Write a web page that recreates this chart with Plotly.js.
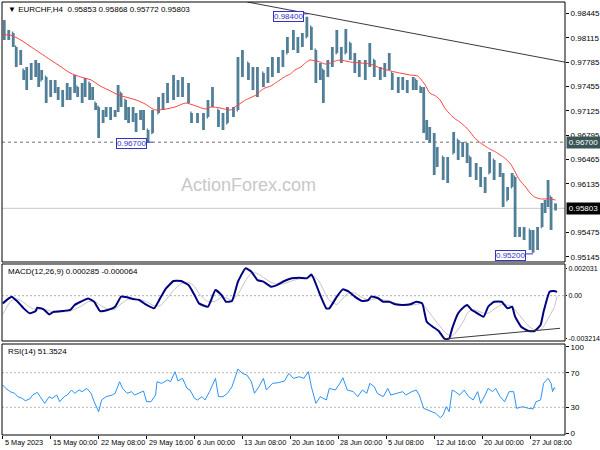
<!DOCTYPE html>
<html><head><meta charset="utf-8">
<script src="https://cdn.plot.ly/plotly-3.0.1.min.js"></script>
<style>html,body{margin:0;padding:0;background:#fff}#chart{width:600px;height:450px}</style>
</head><body><div id="chart"></div>
<script>
// ---- price bars (H4, index = bar number) ----
const barIndex = [1,4,7,9,12,14,16,19,22,24,26,29,32,35,37,40,43,45,48,50,53,55,58,60,62,64,67,69,72,75,77,79,82,84,87,89,92,94,97,100,104,107,110,114,117,120,124,126,130,134,137,140,144,147,150,154,157,160,164,167,170,174,177,180,184,187,190,194,197,200,203,206,209,212,214,217,220,223,226,229,232,235,238,242,245,248,252,255,258,260,264,267,270,274,276,279,281,283,285,288,290,294,297,301,304,307,310,312,316,319,322,325,328,332,334,337,340,342,345,348,352,354,357,360,362,364,366,369];
const barOpen = [0.98289,0.98153,0.98181,0.97991,0.97814,0.97679,0.97584,0.97638,0.97679,0.97747,0.97543,0.97584,0.97340,0.97476,0.97408,0.97340,0.97367,0.97408,0.97408,0.97448,0.97367,0.97448,0.97503,0.97367,0.97231,0.97177,0.97001,0.97096,0.97136,0.97069,0.97136,0.97367,0.97272,0.97096,0.97136,0.97041,0.97069,0.97096,0.96865,0.96825,0.97096,0.97272,0.97313,0.97448,0.97408,0.97476,0.97408,0.97096,0.97001,0.97041,0.97041,0.97204,0.97136,0.97001,0.96960,0.97096,0.97136,0.97747,0.97774,0.97611,0.97543,0.97638,0.97543,0.97679,0.97774,0.97747,0.97909,0.98018,0.98086,0.98018,0.98126,0.98262,0.97950,0.97611,0.97679,0.97611,0.97774,0.97909,0.97950,0.97909,0.98045,0.97882,0.97747,0.97679,0.97747,0.97814,0.97679,0.97611,0.97720,0.97638,0.97476,0.97543,0.97476,0.97503,0.97543,0.97448,0.97367,0.96933,0.96797,0.96770,0.96594,0.96499,0.96323,0.96553,0.96730,0.96594,0.96635,0.96499,0.96323,0.96282,0.96146,0.96282,0.96458,0.96323,0.96255,0.95916,0.96092,0.96228,0.95509,0.95469,0.95509,0.95306,0.95441,0.95550,0.95821,0.95875,0.95957,0.95853];
const barHigh = [0.98357,0.98221,0.98181,0.97991,0.97950,0.97679,0.97720,0.97774,0.97814,0.97774,0.97679,0.97584,0.97543,0.97543,0.97448,0.97408,0.97503,0.97448,0.97611,0.97448,0.97503,0.97570,0.97503,0.97448,0.97231,0.97177,0.97136,0.97177,0.97177,0.97136,0.97476,0.97367,0.97272,0.97177,0.97177,0.97096,0.97136,0.97136,0.96865,0.97136,0.97313,0.97367,0.97503,0.97611,0.97543,0.97584,0.97503,0.97096,0.97096,0.97096,0.97272,0.97448,0.97136,0.97096,0.97177,0.97177,0.97855,0.97950,0.97774,0.97720,0.97720,0.97638,0.97720,0.97855,0.97855,0.97950,0.98126,0.98221,0.98126,0.98181,0.98400,0.98262,0.97950,0.97774,0.97679,0.97814,0.97991,0.98221,0.97991,0.98235,0.98045,0.97909,0.97814,0.97814,0.98045,0.97814,0.97720,0.97774,0.97909,0.97638,0.97584,0.97584,0.97543,0.97584,0.97543,0.97448,0.97448,0.97001,0.96906,0.96825,0.96635,0.96499,0.96499,0.96838,0.96730,0.96702,0.96689,0.96499,0.96418,0.96363,0.96228,0.96567,0.96458,0.96418,0.96282,0.96092,0.96282,0.96228,0.95550,0.95550,0.95509,0.95509,0.95550,0.95875,0.95916,0.96187,0.95957,0.95868];
const barLow = [0.98086,0.98086,0.97991,0.97720,0.97747,0.97543,0.97408,0.97543,0.97584,0.97448,0.97543,0.97231,0.97313,0.97367,0.97272,0.97177,0.97272,0.97272,0.97367,0.97313,0.97231,0.97313,0.97272,0.97272,0.97136,0.96757,0.96960,0.97041,0.97001,0.97041,0.97109,0.97177,0.97001,0.96960,0.96974,0.96838,0.97001,0.96865,0.96700,0.96825,0.97096,0.97136,0.97231,0.97272,0.97313,0.97313,0.97231,0.96960,0.96960,0.96865,0.97041,0.97177,0.96906,0.96865,0.96960,0.97041,0.97136,0.97584,0.97543,0.97408,0.97313,0.97448,0.97503,0.97584,0.97638,0.97720,0.97909,0.97950,0.97909,0.97991,0.98126,0.97950,0.97503,0.97543,0.97231,0.97584,0.97720,0.97909,0.97774,0.97909,0.97814,0.97638,0.97584,0.97543,0.97720,0.97584,0.97543,0.97584,0.97679,0.97408,0.97367,0.97408,0.97367,0.97408,0.97408,0.97367,0.96825,0.96730,0.96689,0.96255,0.96363,0.96187,0.96146,0.96553,0.96458,0.96499,0.96418,0.96228,0.96187,0.96092,0.96011,0.96282,0.96187,0.96228,0.95821,0.95916,0.96092,0.95414,0.95414,0.95374,0.95238,0.95200,0.95238,0.95550,0.95740,0.95821,0.95509,0.95772];
const barClose = [0.98153,0.98181,0.98018,0.97774,0.97882,0.97584,0.97638,0.97679,0.97747,0.97543,0.97611,0.97313,0.97476,0.97408,0.97340,0.97367,0.97408,0.97367,0.97543,0.97367,0.97448,0.97503,0.97367,0.97313,0.97177,0.97001,0.97096,0.97136,0.97069,0.97109,0.97408,0.97272,0.97096,0.97136,0.97041,0.96906,0.97096,0.96906,0.96770,0.97096,0.97272,0.97313,0.97448,0.97408,0.97476,0.97408,0.97272,0.97001,0.97041,0.96933,0.97204,0.97340,0.97001,0.96960,0.97096,0.97136,0.97747,0.97814,0.97611,0.97543,0.97638,0.97543,0.97679,0.97774,0.97747,0.97882,0.98018,0.98086,0.98018,0.98126,0.98262,0.98018,0.97611,0.97679,0.97543,0.97774,0.97909,0.98018,0.97882,0.98086,0.97882,0.97747,0.97679,0.97747,0.97950,0.97679,0.97611,0.97720,0.97814,0.97476,0.97543,0.97476,0.97503,0.97543,0.97448,0.97408,0.96933,0.96797,0.96770,0.96594,0.96499,0.96323,0.96458,0.96770,0.96594,0.96635,0.96499,0.96323,0.96282,0.96146,0.96187,0.96499,0.96323,0.96255,0.95916,0.96052,0.96228,0.95509,0.95469,0.95509,0.95306,0.95441,0.95509,0.95821,0.95875,0.95957,0.95875,0.95803];

// ---- moving average (red) ----
const maIndex = [0,5,12,19,25,32,39,45,52,59,65,72,77,82,89,95,99,102,109,115,122,129,135,139,145,152,155,159,162,165,169,172,175,179,182,185,189,192,195,199,202,205,209,212,215,219,222,225,229,232,239,245,252,259,265,272,277,282,285,289,292,295,299,302,305,309,312,315,319,322,325,329,332,335,339,342,345,349,352,355,359,362,365,369];
const maValues = [0.98153,0.98153,0.98086,0.97991,0.97909,0.97814,0.97720,0.97638,0.97584,0.97543,0.97462,0.97394,0.97340,0.97313,0.97272,0.97218,0.97164,0.97136,0.97150,0.97177,0.97231,0.97191,0.97150,0.97177,0.97164,0.97136,0.97177,0.97231,0.97272,0.97299,0.97340,0.97394,0.97435,0.97462,0.97503,0.97543,0.97597,0.97625,0.97679,0.97720,0.97774,0.97814,0.97801,0.97787,0.97760,0.97774,0.97801,0.97814,0.97801,0.97787,0.97774,0.97760,0.97706,0.97665,0.97638,0.97611,0.97597,0.97476,0.97367,0.97326,0.97272,0.97164,0.97069,0.97015,0.96974,0.96906,0.96838,0.96757,0.96689,0.96648,0.96608,0.96567,0.96526,0.96486,0.96404,0.96296,0.96187,0.96092,0.96011,0.95957,0.95930,0.95930,0.95930,0.95916];

// ---- MACD(12,26,9) ----
const macdIndex = [0,4,6,10,14,18,22,23,27,29,31,34,40,45,48,52,57,61,65,70,75,79,83,87,91,96,101,105,109,114,119,124,128,131,137,142,146,149,153,157,162,166,170,174,179,183,188,193,198,203,206,208,211,216,218,223,227,231,235,240,244,246,250,254,258,262,267,272,276,280,283,287,291,295,298,300,304,308,310,313,315,321,324,328,333,337,340,342,346,351,355,359,361,365,368,370];
const macdValues = [-0.00057,-0.00020,-0.00007,-0.00045,-0.00094,-0.00131,-0.00114,-0.00089,-0.00099,-0.00119,-0.00139,-0.00119,-0.00114,-0.00106,-0.00069,-0.00045,-0.00020,-0.00045,-0.00114,-0.00106,-0.00082,-0.00007,-0.00012,-0.00025,-0.00032,-0.00069,-0.00094,-0.00020,0.00054,0.00109,0.00109,0.00079,0.00005,-0.00057,-0.00082,0.00042,0.00005,-0.00045,-0.00040,0.00104,0.00203,0.00178,0.00116,0.00104,0.00067,0.00079,0.00109,0.00129,0.00134,0.00129,0.00158,0.00116,0.00030,-0.00094,-0.00094,-0.00007,0.00047,0.00030,-0.00007,-0.00040,-0.00032,-0.00007,-0.00015,-0.00045,-0.00045,-0.00064,-0.00069,-0.00064,-0.00045,-0.00057,-0.00193,-0.00230,-0.00262,-0.00321,-0.00317,-0.00243,-0.00131,-0.00082,-0.00069,-0.00106,-0.00119,-0.00156,-0.00082,-0.00045,-0.00045,-0.00094,-0.00082,-0.00156,-0.00230,-0.00262,-0.00262,-0.00218,-0.00119,0.00030,0.00035,0.000285];
const signalValues = [-0.00140,-0.00060,-0.00035,-0.00025,-0.00050,-0.00085,-0.00105,-0.00105,-0.00100,-0.00105,-0.00110,-0.00125,-0.00120,-0.00115,-0.00100,-0.00080,-0.00045,-0.00040,-0.00070,-0.00100,-0.00100,-0.00060,-0.00030,-0.00020,-0.00025,-0.00045,-0.00075,-0.00075,-0.00030,0.00040,0.00090,0.00100,0.00070,0.00015,-0.00045,-0.00040,-0.00010,-0.00015,-0.00035,0.00010,0.00110,0.00170,0.00165,0.00135,0.00100,0.00085,0.00090,0.00110,0.00125,0.00130,0.00140,0.00140,0.00110,0.00000,-0.00035,-0.00065,-0.00020,0.00020,0.00020,-0.00015,-0.00030,-0.00030,-0.00020,-0.00030,-0.00040,-0.00055,-0.00068,-0.00072,-0.00065,-0.00060,-0.00100,-0.00160,-0.00215,-0.00270,-0.00295,-0.00300,-0.00250,-0.00180,-0.00130,-0.00105,-0.00105,-0.00130,-0.00130,-0.00100,-0.00065,-0.00070,-0.00080,-0.00105,-0.00160,-0.00225,-0.00255,-0.00255,-0.00230,-0.00150,-0.00090,-0.000064];

// ---- RSI(14) ----
const rsiIndex = [0,2,5,8,10,13,15,18,20,23,25,28,31,33,36,38,41,43,46,48,51,53,56,59,61,64,66,69,73,75,78,80,83,86,88,91,94,96,99,102,103,106,110,112,115,117,120,123,125,128,130,133,135,138,142,144,147,150,153,157,160,163,166,168,171,174,176,180,184,188,191,194,198,201,204,206,209,212,216,218,222,225,227,230,234,237,240,243,245,248,250,254,257,259,263,267,269,273,276,278,281,285,289,292,294,296,298,300,302,305,308,311,314,317,319,322,324,327,329,332,335,338,341,343,347,351,354,356,359,361,364,366,367,368,369];
const rsiValues = [55.8,51.9,48.1,46.2,42.3,40.4,37.7,39.6,44.2,47.3,42.3,34.6,42.3,40.4,44.2,36.5,42.3,44.2,50,46.2,50,48.1,51.9,46.2,36.5,25,38.5,42.3,44.2,46.2,59.6,51.9,46.2,48.1,44.2,46.2,48.8,36.5,36.5,44.2,59.6,57.7,61.5,59.6,71.2,60.4,63.5,51.9,50,40.4,38.5,42.3,38.5,48.1,63.5,42.3,42.3,46.2,53.8,74.2,69.2,67.3,59.6,46.2,53.8,63.5,50,57.7,58.5,60.4,69.2,63.5,65.4,63.5,71.2,53.8,34.6,42.3,38.5,51.9,50,57.7,64.2,50,48.1,42.3,50,46.2,57.7,53.8,46.2,42.3,51.9,44.2,46.2,48.1,44.2,48.1,50,44.2,28.8,25.8,23.1,18.1,21.2,30.8,25,50,48.1,44.2,50,42.3,38.5,48.1,34.6,44.2,51.9,48.1,51.9,42.3,36.5,48.1,48.1,28.8,30.8,28.8,28.1,36.5,38.5,57.7,63.5,57.7,48.1,52.7,51.3524];

// ---- axes ticks ----
const timeTickIndex = [0,32,64,96,128,160,192,224,256,288,320,352];
const timeTickLabels = ["5 May 2023","15 May 00:00","22 May 08:00","29 May 16:00","6 Jun 00:00","13 Jun 08:00","20 Jun 16:00","28 Jun 00:00","5 Jul 08:00","12 Jul 16:00","20 Jul 00:00","27 Jul 08:00"];
const priceTicks = [0.98445,0.98115,0.97785,0.97455,0.97125,0.96795,0.96465,0.96135,0.95475,0.95145];
const macdTicks = [0.002031,0,-0.003214];
const macdTickLabels = ["0.002031","0.00","-0.003214"];
const rsiTicks = [0,30,70,100];
const rsiLevels = [30,70];

// ---- drawn objects ----
const levelLabels = [0.98400, 0.96700, 0.95200];
const levelLabelIndex = [201, 96, 349];
const supportLevel = 0.96700;
const lastPrice = 0.95803;
const trendIndex = [163.3, 375.3];
const trendPrice = [0.98601, 0.97785];
const macdTrendIndex = [295, 372];
const macdTrendValue = [-0.00321, -0.00242];

const FONT = 'Liberation Sans, Arial, sans-serif';
const barColor = '#527f98';
const labelBlue = '#3434c4';

const traces = [
  {type:'ohlc', x:barIndex, open:barOpen, high:barHigh, low:barLow, close:barClose,
   xaxis:'x', yaxis:'y', tickwidth:0.45,
   increasing:{line:{color:barColor, width:2.8}}, decreasing:{line:{color:barColor, width:2.8}},
   hoverinfo:'skip'},
  {type:'scatter', mode:'lines', x:maIndex, y:maValues, xaxis:'x', yaxis:'y',
   line:{color:'#ff4040', width:1, shape:'spline', smoothing:0.6}, hoverinfo:'skip'},
  {type:'scatter', mode:'lines', x:trendIndex, y:trendPrice, xaxis:'x', yaxis:'y',
   line:{color:'#3a3a3a', width:1}, hoverinfo:'skip'},
  {type:'scatter', mode:'lines', x:macdIndex, y:signalValues, xaxis:'x', yaxis:'y2',
   line:{color:'#c4c4c4', width:1, shape:'spline', smoothing:0.5}, hoverinfo:'skip'},
  {type:'scatter', mode:'lines', x:macdIndex, y:macdValues, xaxis:'x', yaxis:'y2',
   line:{color:'#000080', width:2, shape:'spline', smoothing:0.4}, hoverinfo:'skip'},
  {type:'scatter', mode:'lines', x:macdTrendIndex, y:macdTrendValue, xaxis:'x', yaxis:'y2',
   line:{color:'#3a3a3a', width:1}, hoverinfo:'skip'},
  {type:'scatter', mode:'lines', x:rsiIndex, y:rsiValues, xaxis:'x', yaxis:'y3',
   line:{color:'#2b93f5', width:1}, hoverinfo:'skip'}
];

const axisCommon = {showgrid:false, zeroline:false, ticks:'outside', ticklen:3, tickcolor:'#000',
  tickfont:{family:FONT, size:8, color:'#000'}, showline:false, fixedrange:true};

const shapes = [
  {type:'rect', xref:'paper', yref:'y domain', x0:0, x1:1, y0:0, y1:1, line:{color:'#000', width:1}},
  {type:'rect', xref:'paper', yref:'y2 domain', x0:0, x1:1, y0:0, y1:1, line:{color:'#000', width:1}},
  {type:'rect', xref:'paper', yref:'y3 domain', x0:0, x1:1, y0:0, y1:1, line:{color:'#000', width:1}},
  {type:'line', xref:'paper', yref:'y', x0:0, x1:1, y0:supportLevel, y1:supportLevel, line:{color:'#707070', width:1, dash:'3px,3px'}, layer:'below'},
  {type:'line', xref:'paper', yref:'y', x0:0, x1:1, y0:lastPrice, y1:lastPrice, line:{color:'#c8c8c8', width:1}, layer:'below'},
  {type:'line', xref:'paper', yref:'y2', x0:0, x1:1, y0:0, y1:0, line:{color:'#b0b0b0', width:1, dash:'2px,2px'}, layer:'below'},
  ...rsiLevels.map(v => ({type:'line', xref:'paper', yref:'y3', x0:0, x1:1, y0:v, y1:v, line:{color:'#b8b8b8', width:1, dash:'2px,2px'}, layer:'below'})),
  {type:'line', xref:'x', yref:'y', x0:levelLabelIndex[1], x1:levelLabelIndex[1]+4, y0:levelLabels[1], y1:levelLabels[1], line:{color:labelBlue, width:1}},
  {type:'line', xref:'x', yref:'y', x0:levelLabelIndex[2], x1:levelLabelIndex[2]+5, y0:levelLabels[2]-0.00015, y1:levelLabels[2]-0.00015, line:{color:labelBlue, width:1}},
  {type:'line', xref:'x', yref:'y', x0:levelLabelIndex[0], x1:levelLabelIndex[0]+3, y0:levelLabels[0]+0.0004, y1:levelLabels[0]+0.0004, line:{color:labelBlue, width:1}}
];

const annotations = [
  {xref:'paper', yref:'paper', x:0, y:1, xanchor:'left', yanchor:'top', xshift:4, yshift:-1, showarrow:false,
   text:'▼ EURCHF,H4  0.95853 0.95868 0.95772 0.95803', font:{family:FONT, size:8, color:'#000'}},
  {xref:'paper', yref:'y2 domain', x:0, y:1, xanchor:'left', yanchor:'top', xshift:4, yshift:-1, showarrow:false,
   text:'MACD(12,26,9) 0.000285 -0.000064', font:{family:FONT, size:8, color:'#000'}},
  {xref:'paper', yref:'y3 domain', x:0, y:1, xanchor:'left', yanchor:'top', xshift:4, yshift:-1, showarrow:false,
   text:'RSI(14) 51.3524', font:{family:FONT, size:8, color:'#000'}},
  {xref:'paper', yref:'y domain', x:0.4387, y:0.296, xanchor:'center', yanchor:'middle', showarrow:false,
   text:'ActionForex.com', font:{family:FONT, size:18, color:'#c8c8c8'}},
  ...levelLabels.map((v,i) => ({xref:'x', yref:'y', x:levelLabelIndex[i], y:v, xanchor:'right', yanchor:'middle',
   yshift: i===2 ? -3 : (i===1 ? -1 : 0), showarrow:false, text:v.toFixed(5), bgcolor:'#ffffff', bordercolor:labelBlue,
   borderwidth:1, borderpad:0, font:{family:FONT, size:8, color:labelBlue}})),
  {xref:'paper', yref:'y', x:1, y:supportLevel, xanchor:'left', yanchor:'middle', xshift:1, showarrow:false,
   text:supportLevel.toFixed(5), bgcolor:'#3a5555', borderpad:1, width:31, font:{family:FONT, size:8, color:'#fff'}},
  {xref:'paper', yref:'y', x:1, y:lastPrice, xanchor:'left', yanchor:'middle', xshift:1, showarrow:false,
   text:lastPrice.toFixed(5), bgcolor:'#000000', borderpad:1, width:31, font:{family:FONT, size:8, color:'#fff'}},
  // time-axis labels, left-aligned at their tick like the reference
  ...timeTickIndex.map((t,i) => ({xref:'x', yref:'paper', x:t, y:0, xanchor:'left', yanchor:'top',
   xshift:0, yshift:-1, showarrow:false, text:timeTickLabels[i], font:{family:FONT, size:7.3, color:'#000'}}))
];

const layout = {
  width:600, height:450, paper_bgcolor:'#ffffff', plot_bgcolor:'#ffffff',
  margin:{l:2, r:35, t:2, b:15}, showlegend:false, hovermode:false,
  font:{family:FONT, size:8, color:'#000'},
  xaxis:Object.assign({}, axisCommon, {anchor:'y3', domain:[0,1], range:[-0.5,375.3],
    tickvals:timeTickIndex, showticklabels:false, rangeslider:{visible:false}}),
  yaxis:Object.assign({}, axisCommon, {anchor:'x', side:'right', domain:[0.39954,1], range:[0.95075,0.98601],
    tickvals:priceTicks, ticktext:priceTicks.map(v=>v.toFixed(5))}),
  yaxis2:Object.assign({}, axisCommon, {anchor:'x', side:'right', domain:[0.21709,0.39492], range:[-0.003363,0.002353],
    tickvals:macdTicks, ticktext:macdTickLabels, ticklen:1, tickfont:{family:FONT, size:7, color:'#000'}}),
  yaxis3:Object.assign({}, axisCommon, {anchor:'x', side:'right', domain:[0,0.21016], range:[-2,103.2],
    tickvals:rsiTicks, ticktext:rsiTicks.map(String)}),
  shapes:shapes, annotations:annotations
};

Plotly.newPlot('chart', traces, layout, {displayModeBar:false, staticPlot:true});
</script>
</body></html>
